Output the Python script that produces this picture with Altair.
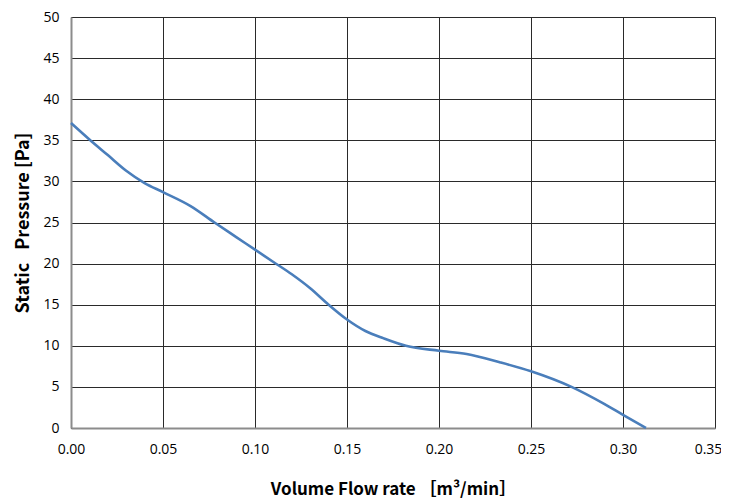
import altair as alt
import pandas as pd

flow = [0.000, 0.010, 0.020, 0.030, 0.040, 0.050, 0.065, 0.078, 0.090, 0.100,
        0.110, 0.120, 0.130, 0.140, 0.150, 0.160, 0.170, 0.182, 0.200, 0.215,
        0.233, 0.250, 0.272, 0.290, 0.300, 0.3125]
pressure = [37.1, 35.1, 33.2, 31.3, 29.8, 28.7, 27.0, 25.0, 23.2, 21.7,
            20.2, 18.7, 17.0, 15.0, 13.2, 11.8, 10.9, 10.0, 9.4, 9.0,
            8.0, 6.9, 5.0, 2.9, 1.6, 0.0]
x_ticks = [0, 0.05, 0.10, 0.15, 0.20, 0.25, 0.30, 0.35]
y_ticks = list(range(0, 55, 5))

df = pd.DataFrame({"flow": flow, "pressure": pressure})

chart = alt.Chart(df).mark_line(
    color="#4A7EBB", strokeWidth=2.6, interpolate="monotone"
).encode(
    x=alt.X("flow:Q",
            scale=alt.Scale(domain=[0, 0.35], nice=False, zero=True),
            axis=alt.Axis(values=x_ticks,
                          format=".2f",
                          title="Volume Flow rate\u00a0［m³/min］",
                          titleFont="Noto Sans CJK JP", titleFontWeight="bold",
                          titleFontSize=17, titleColor="#000",
                          titlePadding=25,
                          labelFont="Open Sans", labelFontSize=14, labelColor="#000",
                          labelPadding=14, tickSize=0, labelFlush=False,
                          labelOffset={"condition": {"test": "datum.value >= 0.349", "value": -7},
                                       "value": 0},
                          domainColor="#8c8c8c", domainWidth=2,
                          gridColor="#2a2a2a", gridWidth=1, gridOpacity=1)),
    y=alt.Y("pressure:Q",
            scale=alt.Scale(domain=[0, 50], nice=False),
            axis=alt.Axis(values=y_ticks,
                          title="Static\u2002\u00a0Pressure [Pa]",
                          titleFont="Noto Sans CJK JP", titleFontWeight="bold",
                          titleFontSize=18, titleColor="#000",
                          titlePadding=10,
                          labelFont="Open Sans", labelFontSize=14, labelColor="#000",
                          labelPadding=12, tickSize=0, labelFlush=False,
                          domainColor="#8c8c8c", domainWidth=2,
                          gridColor="#2a2a2a", gridWidth=1, gridOpacity=1)),
).properties(
    width=644, height=411,
    autosize=alt.AutoSizeParams(type="none"),
    padding={"left": 63, "top": 9, "right": 6, "bottom": 71},
).configure_view(
    stroke="#2a2a2a", strokeWidth=1
).configure(
    background="white"
)

chart.save("out.html", embed_options={"renderer": "svg", "actions": False})
